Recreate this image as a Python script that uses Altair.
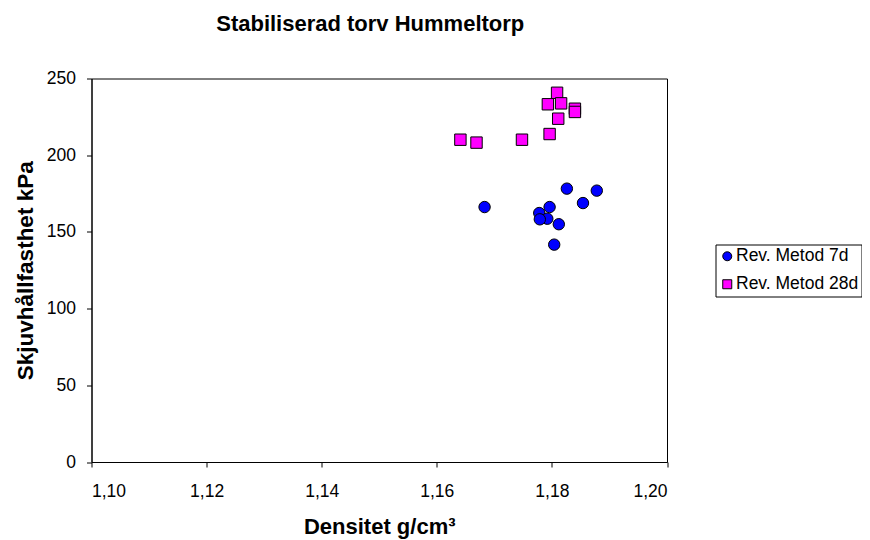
import altair as alt
import pandas as pd

series_names = ["Rev. Metod 7d", "Rev. Metod 28d"]

x_7d = [1.1826, 1.1878, 1.1854, 1.1683, 1.1796, 1.1778, 1.1792, 1.1779, 1.1812, 1.1804]
y_7d = [178.2, 176.9, 168.8, 166.2, 166.2, 162.3, 158.6, 158.2, 155.0, 141.7]

x_28d = [1.1809, 1.1793, 1.1816, 1.1840, 1.1840, 1.1811, 1.1796, 1.1641, 1.1669, 1.1748]
y_28d = [240.7, 233.2, 233.8, 230.3, 228.2, 223.8, 213.8, 210.1, 208.2, 210.1]

x_ticks = [1.10, 1.12, 1.14, 1.16, 1.18, 1.20]
y_ticks = [0, 50, 100, 150, 200, 250]

rows = []
for x, y in zip(x_7d, y_7d):
    rows.append({"x": x, "y": y, "serie": series_names[0]})
for x, y in zip(x_28d, y_28d):
    rows.append({"x": x, "y": y, "serie": series_names[1]})
df = pd.DataFrame(rows)

font = "Liberation Sans"

legend_cfg = dict(title=None, orient="none", legendX=624, legendY=166,
                  strokeColor="black", fillColor="white", padding=3,
                  labelFontSize=17.5, symbolSize=81, symbolStrokeColor="black",
                  symbolStrokeWidth=1, rowPadding=9, labelOffset=0, labelLimit=400)

chart = alt.Chart(df).mark_point(filled=True, stroke="black", strokeWidth=1, opacity=1, size=130).encode(
    x=alt.X("x:Q", scale=alt.Scale(domain=[1.10, 1.20], nice=False, zero=False),
            axis=alt.Axis(values=x_ticks,
                          labelExpr="replace(format(datum.value, '.2f'), '.', ',')",
                          title="Densitet g/cm³", grid=False, tickSize=5,
                          labelFontSize=17.5, titleFontSize=22, titleFontWeight="bold",
                          titlePadding=17, labelPadding=15)),
    y=alt.Y("y:Q", scale=alt.Scale(domain=[0, 250], nice=False),
            axis=alt.Axis(values=y_ticks, title="Skjuvhållfasthet kPa",
                          grid=False, tickSize=5, labelFontSize=17.5, titleFontSize=22.5,
                          titleFontWeight="bold", titlePadding=9, labelPadding=11)),
    color=alt.Color("serie:N", scale=alt.Scale(domain=series_names, range=["#0000ff", "#ff00ff"]),
                    legend=alt.Legend(**legend_cfg)),
    shape=alt.Shape("serie:N", scale=alt.Scale(domain=series_names, range=["circle", "square"]),
                    legend=alt.Legend(**legend_cfg)),
).properties(
    width=575.5, height=383.5,
    padding={"left": 83.5, "top": 70.5, "right": 195, "bottom": 78},
    autosize=alt.AutoSizeParams(type="none"),
    title=alt.TitleParams("Stabiliserad torv Hummeltorp", fontSize=22, fontWeight="bold",
                          font=font, offset=16.5, anchor="middle", baseline="alphabetic", dx=-9),
).configure(font=font).configure_view(stroke="black", strokeWidth=1).configure_axis(
    domainColor="black", tickColor="black", labelColor="black", titleColor="black",
    labelFont=font, titleFont=font
).configure_legend(labelFont=font, labelColor="black")

chart.save("out.html", embed_options={"renderer": "svg", "actions": False})
